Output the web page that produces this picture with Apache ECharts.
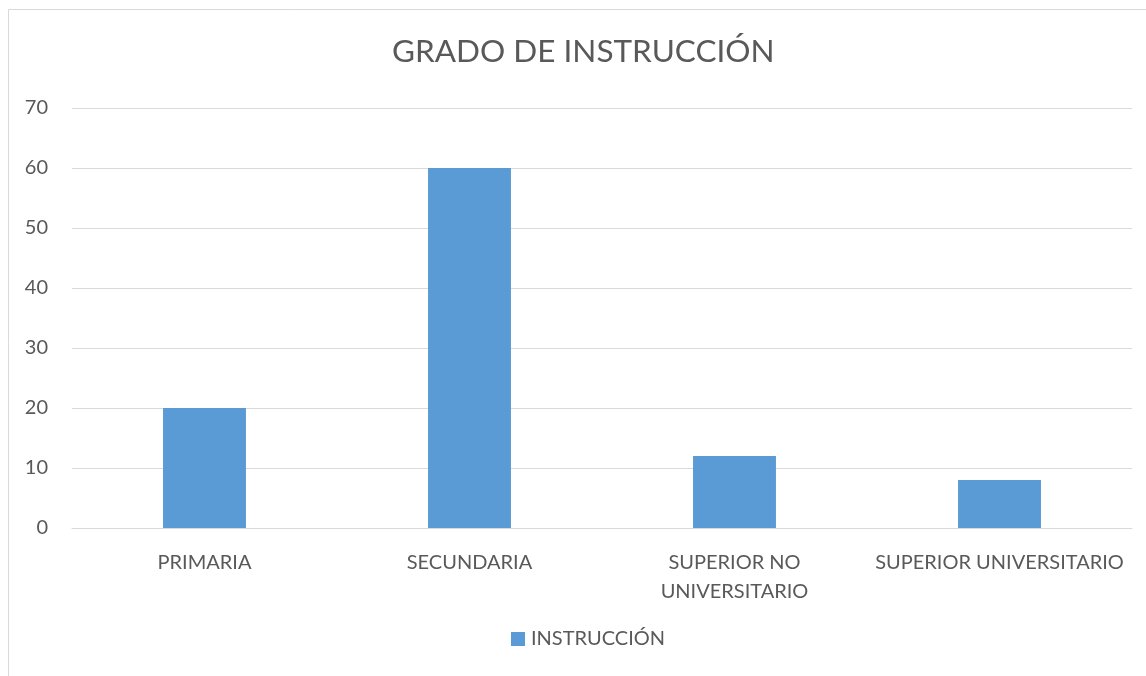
<!DOCTYPE html>
<html>
<head>
<meta charset="utf-8">
<script src="https://cdn.jsdelivr.net/npm/echarts@6/dist/echarts.min.js"></script>
<style>
  html, body { margin: 0; padding: 0; background: #fff; }
  #main { width: 1146px; height: 676px; }
</style>
</head>
<body>
<div id="main"></div>
<script>
var categories = ['PRIMARIA', 'SECUNDARIA', 'SUPERIOR NO\nUNIVERSITARIO', 'SUPERIOR UNIVERSITARIO'];
var instruccion = [20, 60, 12, 8];
var seriesName = 'INSTRUCCIÓN';

var chartDom = document.getElementById('main');
var myChart = echarts.init(chartDom);
var font = 'Lato, "Open Sans", sans-serif';

var option = {
  animation: false,
  textStyle: { fontFamily: font },
  graphic: [
    {
      type: 'rect',
      shape: { x: 8.5, y: 9.5, width: 1200, height: 700 },
      style: { fill: 'none', stroke: '#d9d9d9', lineWidth: 1 },
      silent: true
    }
  ],
  title: {
    text: 'GRADO DE INSTRUCCIÓN',
    left: 387,
    top: 31,
    textStyle: {
      fontFamily: font,
      fontWeight: 'normal',
      fontSize: 31.5,
      color: '#595959'
    }
  },
  legend: {
    data: [seriesName],
    bottom: 22,
    left: 506,
    icon: 'rect',
    itemWidth: 14,
    itemHeight: 14,
    itemGap: 6,
    textStyle: { fontFamily: font, fontSize: 20, color: '#595959', padding: [0, 0, 0, 1] }
  },
  grid: {
    left: 72,
    right: 14,
    top: 108,
    bottom: 148
  },
  xAxis: {
    type: 'category',
    data: categories,
    axisTick: { show: false },
    axisLine: { lineStyle: { color: '#d9d9d9', width: 1 } },
    axisLabel: {
      color: '#595959',
      fontSize: 20,
      margin: 20,
      lineHeight: 29,
      interval: 0
    }
  },
  yAxis: {
    type: 'value',
    min: 0,
    max: 70,
    interval: 10,
    axisLine: { show: false },
    axisTick: { show: false },
    splitLine: { lineStyle: { color: '#d9d9d9', width: 1 } },
    axisLabel: { color: '#595959', fontSize: 20, margin: 24 }
  },
  series: [
    {
      name: seriesName,
      type: 'bar',
      barWidth: '31.3%',
      itemStyle: { color: '#5b9bd5' },
      data: instruccion
    }
  ]
};

myChart.setOption(option);
</script>
</body>
</html>
